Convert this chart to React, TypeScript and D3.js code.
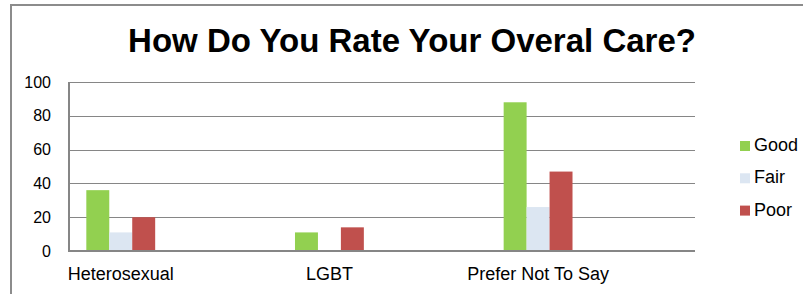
import * as d3 from "d3";
import { useEffect, useRef } from "react";

const categories = ["Heterosexual", "LGBT", "Prefer Not To Say"];
const seriesNames = ["Good", "Fair", "Poor"];
const goodValues = [36, 11, 88];
const fairValues = [11, 0, 26];
const poorValues = [20, 14, 47];
const yTicks = [0, 20, 40, 60, 80, 100];

const COLORS = ["#92D050", "#DCE6F2", "#C0504D"];
const GRID_COLOR = "#868686";
const FONT = "Liberation Sans, Arial, sans-serif";

const App = () => {
  const svgRef = useRef(null);

  useEffect(() => {
    const width = 803;
    const height = 294;
    const plotLeft = 69;
    const plotRight = 695;
    const plotTop = 82;
    const plotBottom = 251;

    const svg = d3
      .select(svgRef.current)
      .attr("width", width)
      .attr("height", height);
    svg.selectAll("*").remove();

    svg
      .append("rect")
      .attr("width", width)
      .attr("height", height)
      .attr("fill", "white");

    // outer chart border
    svg
      .append("rect")
      .attr("x", 11)
      .attr("y", 5)
      .attr("width", width + 20)
      .attr("height", height + 20)
      .attr("fill", "none")
      .attr("stroke", "#8c8c8c")
      .attr("stroke-width", 2);

    svg
      .append("text")
      .attr("x", 412)
      .attr("y", 52)
      .attr("text-anchor", "middle")
      .attr("font-family", FONT)
      .attr("font-weight", "bold")
      .attr("font-size", 33)
      .attr("fill", "#000")
      .text("How Do You Rate Your Overal Care?");

    const y = d3.scaleLinear().domain([0, 100]).range([plotBottom, plotTop]);

    const x0 = d3
      .scaleBand<string>()
      .domain(categories)
      .range([plotLeft, plotRight])
      .paddingInner(0);
    const groupOffset = x0.bandwidth() * 0.083;
    const groupWidth = x0.bandwidth() * 0.33;
    const x1 = d3
      .scaleBand<string>()
      .domain(seriesNames)
      .range([0, groupWidth]);

    // gridlines
    svg
      .append("g")
      .selectAll("line")
      .data(yTicks.filter((t) => t > 0))
      .enter()
      .append("line")
      .attr("x1", plotLeft)
      .attr("x2", plotRight)
      .attr("y1", (d) => Math.round(y(d)) + 0.5)
      .attr("y2", (d) => Math.round(y(d)) + 0.5)
      .attr("stroke", GRID_COLOR)
      .attr("stroke-width", 1);

    // y tick labels
    svg
      .append("g")
      .selectAll("text")
      .data(yTicks)
      .enter()
      .append("text")
      .attr("x", 51)
      .attr("y", (d) => y(d))
      .attr("dy", "0.35em")
      .attr("text-anchor", "end")
      .attr("font-family", FONT)
      .attr("font-size", 16)
      .attr("fill", "#000")
      .text((d) => d);

    const seriesValues = [goodValues, fairValues, poorValues];
    const rows = categories.map((c, i) => ({
      category: c,
      values: seriesNames.map((s, j) => ({ key: s, value: seriesValues[j][i] })),
    }));

    const groups = svg
      .append("g")
      .selectAll("g")
      .data(rows)
      .enter()
      .append("g")
      .attr("transform", (d) => `translate(${(x0(d.category) || 0) + groupOffset},0)`);

    groups
      .selectAll("rect")
      .data((d) => d.values)
      .enter()
      .append("rect")
      .attr("x", (d) => x1(d.key) || 0)
      .attr("y", (d) => y(d.value))
      .attr("width", x1.bandwidth())
      .attr("height", (d) => plotBottom - y(d.value))
      .attr("fill", (d, i) => COLORS[i]);

    // category labels centred on the bar group
    groups
      .append("text")
      .attr("x", groupWidth / 2)
      .attr("y", 280)
      .attr("text-anchor", "middle")
      .attr("font-family", FONT)
      .attr("font-size", 18)
      .attr("fill", "#000")
      .text((d) => d.category);

    // axes
    svg
      .append("line")
      .attr("x1", plotLeft)
      .attr("x2", plotLeft)
      .attr("y1", plotTop)
      .attr("y2", plotBottom)
      .attr("stroke", GRID_COLOR)
      .attr("stroke-width", 2);
    svg
      .append("line")
      .attr("x1", plotLeft - 1)
      .attr("x2", plotRight)
      .attr("y1", plotBottom)
      .attr("y2", plotBottom)
      .attr("stroke", GRID_COLOR)
      .attr("stroke-width", 2);

    // legend
    const legend = svg
      .append("g")
      .selectAll("g")
      .data(seriesNames)
      .enter()
      .append("g")
      .attr("transform", (d, i) => `translate(740,${141 + i * 32.3})`);
    legend
      .append("rect")
      .attr("width", 10)
      .attr("height", 10)
      .attr("fill", (d, i) => COLORS[i]);
    legend
      .append("text")
      .attr("x", 14)
      .attr("y", 10)
      .attr("font-family", FONT)
      .attr("font-size", 18)
      .attr("fill", "#000")
      .text((d) => d);
  }, []);

  return (
    <div style={{ position: "absolute", left: 0, top: 0 }}>
      <svg ref={svgRef} style={{ display: "block" }}></svg>
    </div>
  );
};

export default App;
